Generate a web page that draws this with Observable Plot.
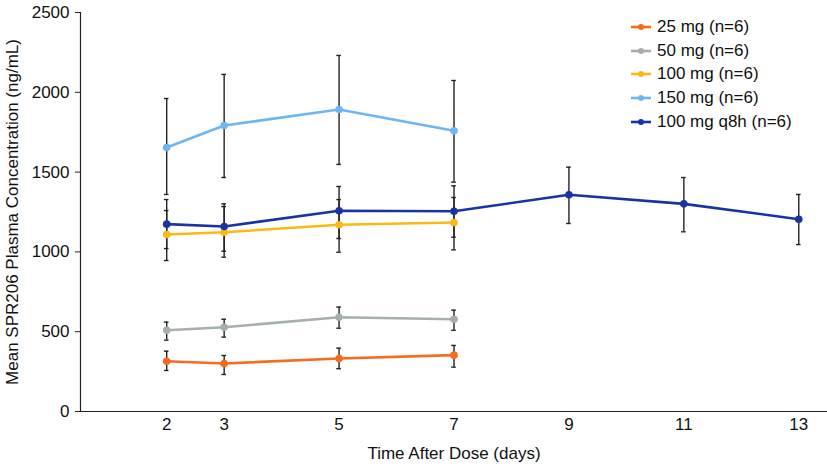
<!DOCTYPE html>
<html>
<head>
<meta charset="utf-8">
<script src="https://cdn.jsdelivr.net/npm/d3@7"></script>
<script src="https://cdn.jsdelivr.net/npm/@observablehq/plot@0.6"></script>
<style>
  html, body { margin: 0; padding: 0; background: #fff; }
  #wrap { position: relative; width: 827px; height: 464px; font-family: "Liberation Sans", Arial, sans-serif; }
  #legend { position: absolute; left: 631px; top: 15px; font-size: 17px; color: #111; }
  #legend .row { display: flex; align-items: center; height: 23.8px; white-space: nowrap; }
  #legend svg { margin-right: 6px; }
</style>
</head>
<body>
<div id="wrap"><div id="legend"></div></div>
<script>
const days = [2, 3, 5, 7];
const daysQ8h = [2, 3, 5, 7, 9, 11, 13];
const seriesNames = ["25 mg (n=6)", "50 mg (n=6)", "100 mg (n=6)", "150 mg (n=6)", "100 mg q8h (n=6)"];
const seriesColors = ["#f76b1c", "#a6afad", "#fbb916", "#6cb7f3", "#1a33a3"];
const yTicks = [0, 500, 1000, 1500, 2000, 2500];
const xTicks = [2, 3, 5, 7, 9, 11, 13];

const mean25 = [315, 301, 332, 353];
const lo25 = [257, 232, 268, 278];
const hi25 = [378, 351, 397, 414];

const mean50 = [509, 528, 591, 578];
const lo50 = [447, 466, 522, 509];
const hi50 = [560, 578, 654, 635];

const mean100 = [1109, 1123, 1170, 1184];
const lo100 = [946, 967, 998, 1013];
const hi100 = [1259, 1284, 1328, 1341];

const mean150 = [1654, 1792, 1892, 1759];
const lo150 = [1360, 1466, 1548, 1437];
const hi150 = [1961, 2112, 2231, 2074];

const meanQ8h = [1174, 1159, 1258, 1255, 1358, 1301, 1205];
const loQ8h = [1021, 1004, 1084, 1092, 1178, 1126, 1046];
const hiQ8h = [1328, 1301, 1410, 1414, 1531, 1466, 1360];

function build(name, xs, mean, lo, hi) {
  return xs.map((x, i) => ({series: name, day: x, mean: mean[i], lo: lo[i], hi: hi[i]}));
}
const data = [
  ...build(seriesNames[0], days, mean25, lo25, hi25),
  ...build(seriesNames[1], days, mean50, lo50, hi50),
  ...build(seriesNames[2], days, mean100, lo100, hi100),
  ...build(seriesNames[3], days, mean150, lo150, hi150),
  ...build(seriesNames[4], daysQ8h, meanQ8h, loQ8h, hiQ8h)
];

const capHalf = 0.04;
const axisColor = "#222";

const chart = Plot.plot({
  width: 827,
  height: 464,
  marginLeft: 80,
  marginRight: 0,
  marginTop: 12,
  marginBottom: 53,
  style: {fontFamily: "'Liberation Sans', Arial, sans-serif", fontSize: "17px", color: "#111", background: "#fff"},
  x: {domain: [0.5, 13.5]},
  y: {domain: [0, 2500]},
  color: {domain: seriesNames, range: seriesColors},
  marks: [
    Plot.axisY({ticks: yTicks, tickFormat: d => String(d), tickSize: 5, tickPadding: 6, stroke: axisColor,
      label: "Mean SPR206 Plasma Concentration (ng/mL)", labelAnchor: "center", labelArrow: "none", labelOffset: 75}),
    Plot.axisX({ticks: xTicks, tickFormat: d => String(d), tickSize: 0, tickPadding: 6,
      label: "Time After Dose (days)", labelAnchor: "center", labelArrow: "none", labelOffset: 47}),
    Plot.ruleY([0], {stroke: axisColor, strokeWidth: 1.2}),
    Plot.ruleX([0.5], {stroke: axisColor, strokeWidth: 1.2}),
    Plot.ruleX(data, {x: "day", y1: "lo", y2: "hi", stroke: axisColor, strokeWidth: 1.4}),
    Plot.ruleY(data, {x1: d => d.day - capHalf, x2: d => d.day + capHalf, y: "lo", stroke: axisColor, strokeWidth: 1.4}),
    Plot.ruleY(data, {x1: d => d.day - capHalf, x2: d => d.day + capHalf, y: "hi", stroke: axisColor, strokeWidth: 1.4}),
    Plot.line(data, {x: "day", y: "mean", z: "series", stroke: "series", strokeWidth: 2.6}),
    Plot.dot(data, {x: "day", y: "mean", fill: "series", r: 3.8})
  ]
});
document.getElementById("wrap").prepend(chart);

const legend = document.getElementById("legend");
seriesNames.forEach((name, i) => {
  const row = document.createElement("div");
  row.className = "row";
  row.innerHTML = `<svg width="20" height="10"><line x1="0" x2="20" y1="5" y2="5" stroke="${seriesColors[i]}" stroke-width="2.6"/><circle cx="10" cy="5" r="3" fill="${seriesColors[i]}"/></svg><span>${name}</span>`;
  legend.appendChild(row);
});
</script>
</body>
</html>
